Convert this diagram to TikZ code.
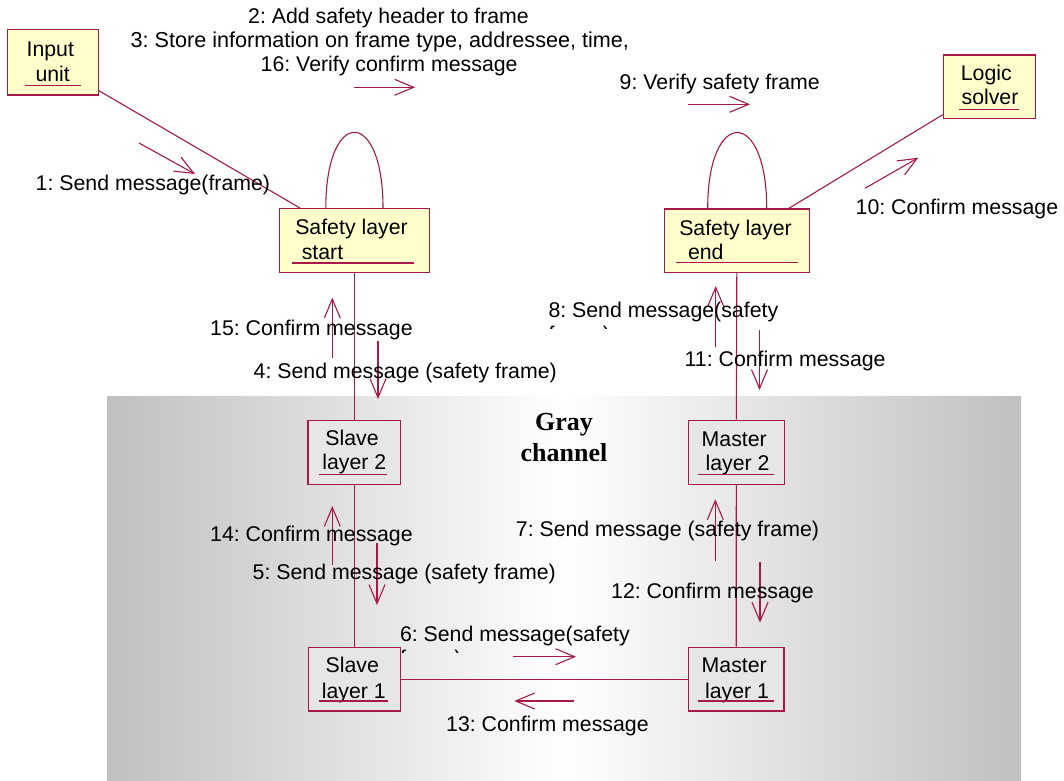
\documentclass[tikz,border=0pt]{standalone}
\usepackage{fontspec}
\setmainfont{Liberation Sans}
\newfontfamily\titlefont{Liberation Serif}
\usetikzlibrary{arrows.meta,calc}

\definecolor{umlred}{RGB}{168,24,72}
\definecolor{objyellow}{RGB}{255,255,204}
\definecolor{objgray}{RGB}{230,230,230}
\definecolor{chgray}{RGB}{192,192,192}

\frenchspacing
\begin{document}
\begin{tikzpicture}[x=1pt,y=-1pt,
  lbl/.style={inner sep=0pt, anchor=base west, font=\fontsize{21.3}{24}\selectfont},
  boxtxt/.style={inner sep=0pt, anchor=base, font=\fontsize{21.3}{24}\selectfont},
  objbox/.style={draw=umlred, line width=1.3pt, inner sep=0pt, fill=objyellow},
  grybox/.style={objbox, fill=objgray},
  link/.style={draw=umlred, line width=1.1pt},
  msg/.style={draw=umlred, line width=1.1pt, -{Straight Barb[length=19pt,width=16pt]}},
  uline/.style={draw=umlred, line width=1.1pt}]

\useasboundingbox (0,0) rectangle (1064,780);

% gray channel background
\node[inner sep=0pt, minimum width=914pt, minimum height=384pt,
      left color=chgray, right color=chgray, middle color=white] (chan) at (564,588) {};
\node[inner sep=0pt, anchor=base, font=\titlefont\bfseries\fontsize{26}{30}\selectfont] (chanA) at (564,430) {Gray};
\node[inner sep=0pt, anchor=base, font=\titlefont\bfseries\fontsize{26}{30}\selectfont] (chanB) at (564,461.7) {channel};

% objects
\node[objbox, minimum width=91pt,  minimum height=65.7pt] (inp) at (52.8,62.2) {};
\node[objbox, minimum width=150pt, minimum height=64pt]   (sls) at (354.3,240.7) {};
\node[objbox, minimum width=145pt, minimum height=63.5pt] (sle) at (736.8,240.7) {};
\node[objbox, minimum width=92pt,  minimum height=63.7pt] (ls)  at (989.3,86.9) {};
\node[grybox, minimum width=92.7pt, minimum height=64pt]  (sl2) at (354.3,452.3) {};
\node[grybox, minimum width=96pt,  minimum height=64pt]   (ml2) at (736.3,452.3) {};
\node[grybox, minimum width=92pt,  minimum height=63.7pt] (sl1) at (354.3,679.2) {};
\node[grybox, minimum width=95.7pt, minimum height=63.7pt] (ml1) at (736.2,679.2) {};

% object names
\node[boxtxt] (inpA) at (50.3,56) {Input};
\node[boxtxt] (inpB) at (52.7,81) {unit};
\draw[uline] (25,85.6) -- (80.7,85.6);

\node[boxtxt] (slsA) at (351.5,234) {Safety layer};
\node[boxtxt] (slsB) at (322.5,259) {start};
\draw[uline] (292,263) -- (414,263);

\node[boxtxt] (sleA) at (735.5,235) {Safety layer};
\node[boxtxt] (sleB) at (705.8,259) {end};
\draw[uline] (676,262.7) -- (797.7,262.7);

\node[boxtxt] (lsA) at (986.3,80.7) {Logic};
\node[boxtxt] (lsB) at (990,104.3) {solver};
\draw[uline] (959,109.3) -- (1019.3,109.3);

\node[boxtxt] (sl2A) at (352,445) {Slave};
\node[boxtxt] (sl2B) at (354.3,469.3) {layer 2};
\draw[uline] (319,474.3) -- (387.3,474.3);

\node[boxtxt] (ml2A) at (734.2,446) {Master};
\node[boxtxt] (ml2B) at (737.5,470) {layer 2};
\draw[uline] (698,474.3) -- (774.3,474.3);

\node[boxtxt] (sl1A) at (352.3,672.7) {Slave};
\node[boxtxt] (sl1B) at (353.8,698.3) {layer 1};
\draw[uline] (319.3,701) -- (387.7,701);

\node[boxtxt] (ml1A) at (734.2,672.7) {Master};
\node[boxtxt] (ml1B) at (737,698.3) {layer 1};
\draw[uline] (698.3,701) -- (774.3,701);

% links
\draw[link] ($(inp.south east)+(0,-5)$) -- ($(sls.north west)+(21.4,0)$);
\draw[link] ($(sle.north east)+(-21,0)$) -- ($(ls.south west)+(0,-4.7)$);
\draw[link] (sls.south) -- (sl2.north);
\draw[link] (sl2.south) -- (sl1.north);
\draw[link] (sle.south) -- (ml2.north);
\draw[link] (ml2.south) -- (ml1.north);
\draw[link] (sl1.east) -- (ml1.west);
% self links
\draw[link] ($(sls.north)+(-28.5,0)$) .. controls +(0,-101) and +(0,-101) .. ($(sls.north)+(28.7,0)$);
\draw[link] ($(sle.north)+(-29.1,0)$) .. controls +(0,-101) and +(0,-101) .. ($(sle.north)+(29.9,0)$);

% message arrows
\draw[msg] (139,143) -- (195,174);
\draw[msg] (354.3,87.3) -- (415,87.3);
\draw[msg] (687.7,104.3) -- (750,104.3);
\draw[msg] (865,188.3) -- (918.3,157.7);
\draw[msg] (332.3,358.3) -- (332.3,297.7);
\draw[msg] (378,341) -- (378,399);
\draw[msg] (715.7,347.3) -- (715.7,286);
\draw[msg] (759.5,330) -- (759.5,390);
\draw[msg] (332.3,565) -- (332.3,506);
\draw[msg] (377,542.7) -- (377,605);
\draw[msg] (715.3,561) -- (715.3,499.3);
\draw[msg] (760,561.7) -- (760,622.7);
\draw[msg] (513.3,656.7) -- (576,656.7);
\draw[msg] (574,701) -- (514.3,701);

% message labels
\node[lbl] (t2a) at (248,23.5) {2: Add safety header to frame};
\node[lbl, font=\fontsize{21.6}{24}\selectfont] (t2b) at (130.5,47.5) {3: Store information on frame type, addressee, time,};
\node[lbl] (t2c) at (260.5,71.5) {16: Verify confirm message};
\node[lbl] (t1)  at (35.5,190) {1: Send message(frame)};
\node[lbl] (t9)  at (619.5,89) {9: Verify safety frame};
\node[lbl] (t10) at (855.5,214) {10: Confirm message};
\node[lbl] (t15) at (210,335) {15: Confirm message};
\node[lbl] (t4)  at (253.5,378.3) {4: Send message (safety frame)};
\node[lbl] (t8)  at (548.3,317.7) {8: Send message(safety};
\begin{scope}
  \clip (540,300) rectangle (800,328.6);
  \node[lbl] (t8b) at (548.3,341.7) {frame)};
\end{scope}
\node[lbl] (t11) at (684.5,366.7) {11: Confirm message};
\node[lbl] (t14) at (210,541.7) {14: Confirm message};
\node[lbl] (t5)  at (252.5,579.3) {5: Send message (safety frame)};
\node[lbl] (t7)  at (515.7,536.5) {7: Send message (safety frame)};
\node[lbl] (t12) at (611,598.3) {12: Confirm message};
\node[lbl] (t6)  at (399.8,641.7) {6: Send message(safety};
\begin{scope}
  \clip (390,620) rectangle (640,652.6);
  \node[lbl] (t6b) at (399.8,665.7) {frame)};
\end{scope}
\node[lbl] (t13) at (446,731.7) {13: Confirm message};

\end{tikzpicture}
\end{document}
